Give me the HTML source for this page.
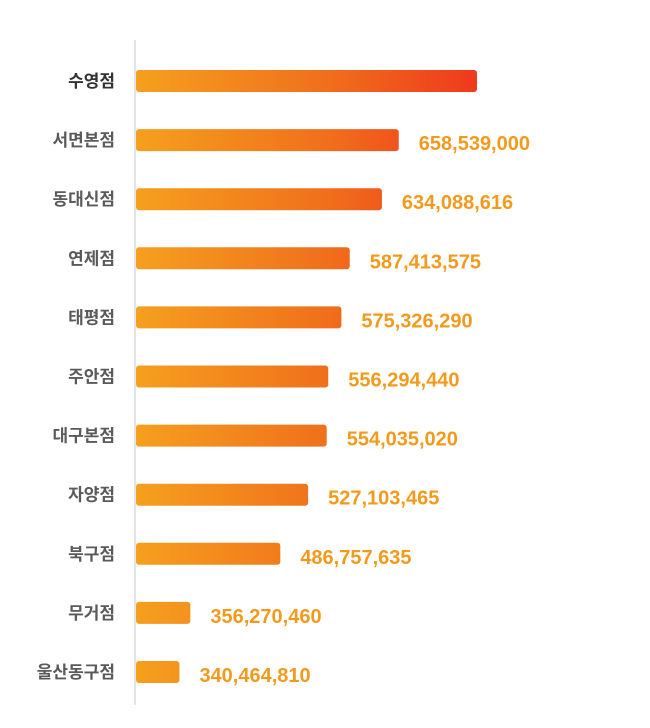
<!DOCTYPE html>
<html><head><meta charset="utf-8"><style>
html,body{margin:0;padding:0;background:#fff;}
svg{display:block;}
</style></head><body>
<svg id="chart" width="650" height="728" viewBox="0 0 650 728" xmlns="http://www.w3.org/2000/svg">
<defs>
<linearGradient id="g" gradientUnits="userSpaceOnUse" x1="135" y1="0" x2="480" y2="0">
<stop offset="0" stop-color="#f5a01e"/>
<stop offset="0.55" stop-color="#f0701c"/>
<stop offset="0.85" stop-color="#f04a1c"/>
<stop offset="1" stop-color="#f0381c"/>
</linearGradient>
</defs>
<line x1="135" y1="40" x2="135" y2="705" stroke="#e4e4e4" stroke-width="2"/>
<g id="bars"></g>
</svg>
<script>
const categories=["수영점","서면본점","동대신점","연제점","태평점","주안점","대구본점","자양점","북구점","무거점","울산동구점"];
const values=[772000000,658539000,634088616,587413575,575326290,556294440,554035020,527103465,486757635,356270460,340464810];
const valueLabels=["","658,539,000","634,088,616","587,413,575","575,326,290","556,294,440","554,035,020","527,103,465","486,757,635","356,270,460","340,464,810"];
const xMin=276000000, xMax=772000000;
const x0=135, x1=477, top0=81, step=59.1, bh=22;
function xScale(v){return x0+(v-xMin)/(xMax-xMin)*(x1-x0);}
function yScale(i){return top0+i*step;}
const ns="http://www.w3.org/2000/svg";
const g=document.getElementById('bars');
categories.forEach((c,i)=>{
  const cy=yScale(i);
  const r=document.createElementNS(ns,'rect');
  
  
  r.setAttribute('x',x0+1);r.setAttribute('y',cy-bh/2);
  r.setAttribute('width',xScale(values[i])-x0-1);r.setAttribute('height',bh);
  r.setAttribute('rx',3);r.setAttribute('fill','url(#g)');
  g.appendChild(r);
  const t=document.createElementNS(ns,'text');
  
  
  t.setAttribute('x',115);t.setAttribute('y',cy+6);
  t.setAttribute('text-anchor','end');
  t.setAttribute('font-family','"Liberation Sans","Noto Sans CJK KR",sans-serif');
  t.setAttribute('font-size','17');t.setAttribute('font-weight','bold');
  t.setAttribute('fill',i===0?'#333':'#5a5a5a');
  t.textContent=c;g.appendChild(t);
  if(valueLabels[i]){
    const v=document.createElementNS(ns,'text');
    
    
    v.setAttribute('x',xScale(values[i])+20);v.setAttribute('y',cy+10);
    v.setAttribute('font-family','"Liberation Sans",sans-serif');
    v.setAttribute('font-size','20');v.setAttribute('font-weight','bold');
    v.setAttribute('fill','#f39a1c');
    v.textContent=valueLabels[i];g.appendChild(v);
  }
});
</script>
</body></html>
